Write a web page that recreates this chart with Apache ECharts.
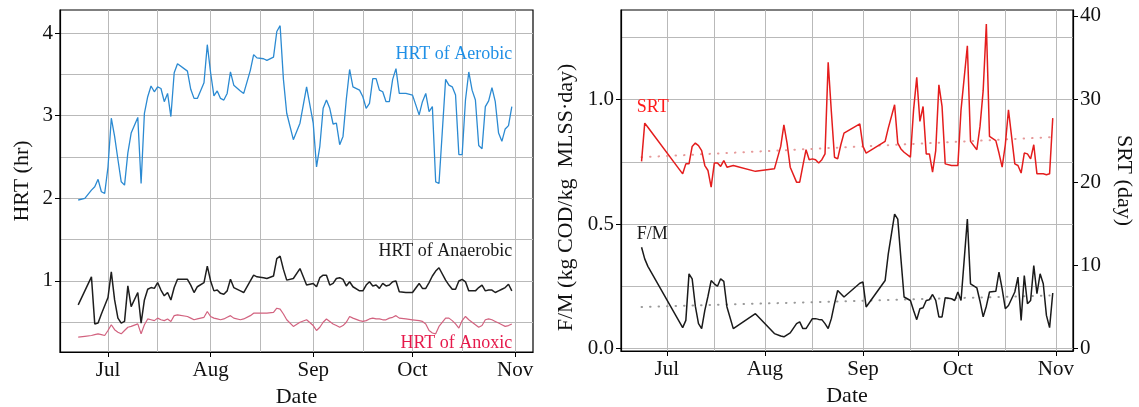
<!DOCTYPE html>
<html><head><meta charset="utf-8">
<script src="https://cdn.jsdelivr.net/npm/echarts@6/dist/echarts.min.js"></script>
<style>html,body{margin:0;padding:0;background:#fff}#c{width:1139px;height:407px}</style>
</head><body><div id="c"></div>
<script>
// ---------- data (left panel: HRT) ----------
const leftDates = ['06-22','06-24','06-26','06-27','06-28','06-29','06-30',
'07-01','07-02','07-03','07-04','07-05','07-06','07-07','07-08','07-10','07-11','07-12','07-13','07-14','07-15','07-16','07-17','07-18','07-19','07-20','07-21','07-22','07-25','07-26','07-27','07-28','07-30','07-31',
'08-01','08-02','08-03','08-04','08-05','08-06','08-07','08-08','08-10','08-11','08-13','08-14','08-15','08-17','08-18','08-20','08-21','08-22','08-23','08-24','08-26','08-28','08-30',
'09-01','09-02','09-03','09-04','09-05','09-06','09-07','09-08','09-09','09-10','09-11','09-12','09-13','09-15','09-16','09-17','09-18','09-19','09-20','09-21','09-22','09-23','09-24','09-25','09-26','09-27','09-29',
'10-01','10-03','10-04','10-05','10-06','10-07','10-08','10-09','10-11','10-12','10-13','10-14','10-15','10-16','10-17','10-18','10-19','10-20','10-21','10-22','10-23','10-24','10-25','10-26','10-27','10-28','10-29','10-30','10-31'];
const hrtAerobic = [1.98,2.00,2.10,2.14,2.23,2.08,2.06,
2.38,2.97,2.75,2.47,2.20,2.16,2.55,2.79,2.98,2.18,3.03,3.23,3.36,3.29,3.35,3.33,3.17,3.27,2.99,3.52,3.63,3.54,3.32,3.21,3.21,3.40,3.86,
3.52,3.24,3.30,3.21,3.19,3.27,3.53,3.37,3.30,3.27,3.55,3.74,3.70,3.69,3.67,3.71,4.02,4.09,3.44,3.03,2.71,2.91,3.35,
2.91,2.38,2.63,3.09,3.19,3.09,2.90,2.91,2.65,2.75,3.20,3.56,3.35,3.31,3.23,3.09,3.15,3.45,3.45,3.31,3.29,3.17,3.17,3.44,3.57,3.27,3.27,
3.25,3.01,3.17,3.27,3.05,3.11,2.20,2.18,3.44,3.37,3.35,3.25,2.53,2.53,3.19,3.53,3.31,3.19,2.64,2.60,3.11,3.18,3.34,3.17,2.79,2.69,2.84,2.88,3.11];
const hrtAnaerobic = [0.71,0.88,1.05,0.48,0.49,0.60,0.70,
0.80,1.11,0.77,0.55,0.49,0.51,0.94,0.69,0.86,0.49,0.77,0.90,0.92,0.91,0.98,0.89,0.82,0.86,0.77,0.92,1.02,1.02,0.95,0.86,0.93,0.98,1.18,
1.00,0.88,0.89,0.85,0.84,0.88,1.02,0.92,0.88,0.86,1.00,1.07,1.05,1.04,1.03,1.06,1.27,1.30,1.14,1.01,1.03,1.15,0.95,
0.97,0.93,1.04,1.07,1.07,0.95,0.97,1.03,1.04,1.02,0.94,0.99,0.93,0.88,0.88,0.95,0.99,0.94,0.95,0.91,0.97,0.94,0.95,0.99,1.00,0.87,0.86,
0.86,0.97,0.91,0.91,0.98,1.06,1.12,1.16,1.01,0.95,0.90,0.90,1.00,1.02,0.99,0.88,0.88,0.88,0.92,0.95,0.88,0.89,0.89,0.86,0.88,0.90,0.92,0.96,0.88];
const hrtAnoxic = [0.32,0.33,0.34,0.35,0.36,0.35,0.34,
0.40,0.47,0.41,0.38,0.36,0.40,0.44,0.45,0.48,0.36,0.47,0.54,0.53,0.52,0.55,0.53,0.52,0.54,0.51,0.58,0.59,0.57,0.55,0.53,0.54,0.56,0.63,
0.57,0.55,0.54,0.53,0.54,0.56,0.58,0.55,0.53,0.54,0.58,0.61,0.61,0.61,0.61,0.62,0.67,0.66,0.60,0.53,0.45,0.50,0.53,
0.46,0.40,0.44,0.50,0.54,0.51,0.48,0.46,0.44,0.46,0.50,0.57,0.55,0.52,0.51,0.52,0.54,0.55,0.54,0.54,0.53,0.53,0.55,0.56,0.58,0.55,0.54,
0.53,0.52,0.51,0.48,0.40,0.37,0.36,0.45,0.55,0.55,0.52,0.48,0.43,0.52,0.57,0.53,0.50,0.47,0.44,0.46,0.53,0.54,0.53,0.51,0.49,0.47,0.45,0.46,0.48];

// ---------- data (right panel: SRT and F/M) ----------
const rightDates = ['06-23','06-24','06-25','07-06','07-07','07-08','07-09','07-10','07-11','07-12','07-13','07-14','07-15','07-16','07-17','07-18','07-19','07-20','07-22','07-29',
'08-04','08-06','08-07','08-08','08-09','08-11','08-12','08-13','08-14','08-15','08-16','08-17','08-18','08-19','08-20','08-21','08-22','08-23','08-24','08-25','08-26','08-31',
'09-01','09-02','09-08','09-09','09-11','09-12','09-13','09-14','09-16','09-17','09-18','09-19','09-20','09-21','09-22','09-23','09-24','09-25','09-26','09-27','09-29','09-30',
'10-01','10-02','10-04','10-05','10-07','10-08','10-09','10-10','10-11','10-13','10-14','10-15','10-16','10-17','10-19','10-20','10-21','10-22','10-23','10-24','10-25','10-26','10-27','10-28','10-29','10-30','10-31'];
const srtValues = [22.5,27.1,26.6,21.0,22.2,22.2,24.3,24.7,24.4,23.8,22.0,21.4,19.4,22.3,22.3,21.9,22.6,21.8,22.0,21.3,
21.6,24.3,26.9,24.7,21.8,20.0,20.0,22.0,23.9,22.7,22.8,22.7,22.3,22.7,23.4,34.4,28.5,23.0,22.8,24.5,25.9,27.0,
24.3,23.5,24.9,26.5,29.3,24.7,24.0,23.6,23.0,28.7,32.6,27.3,29.1,23.4,23.4,21.2,23.8,31.7,29.1,22.2,22.0,22.0,
22.0,28.7,36.4,24.9,23.9,26.7,31.0,39.0,25.5,25.0,23.5,21.8,24.5,28.7,22.2,22.0,21.1,23.5,23.4,22.8,24.5,21.0,21.0,21.0,20.9,21.0,27.7];
const fmValues = [0.407,0.36,0.33,0.084,0.113,0.30,0.28,0.17,0.10,0.08,0.153,0.21,0.273,0.26,0.25,0.28,0.27,0.167,0.08,0.14,
0.06,0.05,0.047,0.055,0.063,0.10,0.107,0.08,0.08,0.10,0.12,0.12,0.117,0.116,0.10,0.08,0.12,0.18,0.233,0.22,0.207,0.262,
0.267,0.167,0.273,0.38,0.54,0.52,0.36,0.207,0.193,0.153,0.116,0.16,0.164,0.193,0.196,0.217,0.193,0.127,0.127,0.204,0.20,0.193,
0.227,0.193,0.52,0.26,0.244,0.19,0.127,0.17,0.227,0.23,0.307,0.24,0.16,0.173,0.227,0.287,0.113,0.293,0.18,0.193,0.333,0.22,0.30,0.26,0.133,0.084,0.223];
const trendDates = ['06-23','10-30'];
const srtTrend = [23.0, 25.4];
const fmTrend = [0.167, 0.213];

// ---------- axis ticks ----------
const monthTickDates = ['07-01','08-01','09-01','10-01','11-01'];
const monthLabels = ['Jul','Aug','Sep','Oct','Nov'];
const gridLineDates = ['07-01','07-16','08-01','08-16','09-01','09-16','10-01','10-16','11-01'];
const hrtTicks = [1,2,3,4];
const hrtGridLines = [0.5,1,1.5,2,2.5,3,3.5,4];
const fmTicks = [0,0.5,1.0];
const fmGridLines = [0,0.25,0.5,0.75,1.0,1.25];
const srtTicks = [0,10,20,30,40];

// ---------- helpers ----------
function dayNum(s){ const p = s.split('-').map(Number); return Math.round((Date.UTC(2019,p[0]-1,p[1]) - Date.UTC(2019,6,1))/86400000); }
function pairs(dates, vals){ return dates.map((d,i)=>[dayNum(d), vals[i]]); }
const monthTickVals = monthTickDates.map(dayNum);
const gridVals = gridLineDates.map(dayNum);
const X_MIN = -14.5, X_MAX = 128.4;
const FONT = 'Liberation Serif';
const TXT = '#111';
const GRIDC = '#b9b9b9';

function xMain(g){ return {type:'value', gridIndex:g, min:X_MIN, max:X_MAX, position:'bottom',
  axisLine:{show:true,onZero:false,lineStyle:{color:'#000',width:1.2}},
  axisTick:{show:true,inside:false,length:5,customValues:monthTickVals,lineStyle:{color:'#000',width:1}},
  axisLabel:{show:true,customValues:monthTickVals,margin:8,fontFamily:FONT,fontSize:21,color:TXT,
    formatter:v=>monthLabels[monthTickVals.indexOf(Math.round(v))]},
  splitLine:{show:false},
  name:'Date',nameLocation:'middle',nameGap:31,nameTextStyle:{fontFamily:FONT,fontSize:22,color:TXT}}; }
function xGrid(g){ return {type:'value', gridIndex:g, min:X_MIN, max:X_MAX, position:'top',
  axisLine:{show:false}, axisTick:{show:false,customValues:gridVals}, axisLabel:{show:false,customValues:gridVals},
  splitLine:{show:true,lineStyle:{color:GRIDC,width:1}}}; }
function yGrid(g,min,max,vals){ return {type:'value', gridIndex:g, min:min, max:max, position:'left',
  axisLine:{show:false}, axisTick:{show:false,customValues:vals}, axisLabel:{show:false,customValues:vals},
  splitLine:{show:true,lineStyle:{color:GRIDC,width:1}}}; }
function yMain(g,min,max,vals,pos,name,gap,fmt,rot,pad){ const o = {type:'value', gridIndex:g, min:min, max:max, position:pos,
  axisLine:{show:true,onZero:false,lineStyle:{color:'#000',width:1.2}},
  axisTick:{show:true,inside:false,length:5,customValues:vals,lineStyle:{color:'#000',width:1}},
  axisLabel:{show:true,customValues:vals,margin:7,fontFamily:FONT,fontSize:21,color:TXT,formatter:fmt},
  splitLine:{show:false},
  name:name,nameLocation:'middle',nameGap:gap,nameTextStyle:{fontFamily:FONT,fontSize:22,color:TXT}};
  if (rot !== undefined && rot !== null) o.nameRotate = rot;
  if (pad) o.nameTextStyle.padding = pad;
  return o; }

const H_MIN = 0.14, H_MAX = 4.28, F_MIN = -0.01, F_MAX = 1.36, S_MIN = -0.3, S_MAX = 40.7;

const chart = echarts.init(document.getElementById('c'), null, {renderer:'canvas'});
const gridBase = {show:true, borderColor:'#000', borderWidth:1.2, backgroundColor:'transparent', containLabel:false, outerBoundsMode:'none'};
chart.setOption({
  animation:false,
  backgroundColor:'#fff',
  grid:[Object.assign({left:60, top:10, width:473, height:342}, gridBase),
        Object.assign({left:621, top:10, width:452, height:341}, gridBase)],
  xAxis:[xMain(0), xGrid(0), xMain(1), xGrid(1)],
  yAxis:[
    yMain(0,H_MIN,H_MAX,hrtTicks,'left','HRT (hr)',27,v=>String(Math.round(v))),
    yGrid(0,H_MIN,H_MAX,hrtGridLines),
    yMain(1,F_MIN,F_MAX,fmTicks,'left','F/M (kg COD/kg  MLSS\u00b7day)',44,v=>v.toFixed(1),null,[0,34,0,0]),
    yMain(1,S_MIN,S_MAX,srtTicks,'right','SRT (day)',40,v=>String(Math.round(v)),-90),
    yGrid(1,F_MIN,F_MAX,fmGridLines)
  ],
  series:[
    {type:'line', xAxisIndex:0, yAxisIndex:0, data:pairs(leftDates,hrtAnoxic), showSymbol:false, symbol:'none', silent:true, lineStyle:{color:'#d2627f',width:1.2}},
    {type:'line', xAxisIndex:0, yAxisIndex:0, data:pairs(leftDates,hrtAnaerobic), showSymbol:false, symbol:'none', silent:true, lineStyle:{color:'#1e1e1e',width:1.5}},
    {type:'line', xAxisIndex:0, yAxisIndex:0, data:pairs(leftDates,hrtAerobic), showSymbol:false, symbol:'none', silent:true, lineStyle:{color:'#2b8ad2',width:1.3}},
    {type:'line', xAxisIndex:2, yAxisIndex:3, data:pairs(trendDates,srtTrend), showSymbol:false, symbol:'none', silent:true, lineStyle:{color:'#e69a9a',width:2,type:[0.5,8],cap:'round'}},
    {type:'line', xAxisIndex:2, yAxisIndex:2, data:pairs(trendDates,fmTrend), showSymbol:false, symbol:'none', silent:true, lineStyle:{color:'#999999',width:2,type:[0.5,8],cap:'round'}},
    {type:'line', xAxisIndex:2, yAxisIndex:3, data:pairs(rightDates,srtValues), showSymbol:false, symbol:'none', silent:true, lineStyle:{color:'#e41d1d',width:1.5}},
    {type:'line', xAxisIndex:2, yAxisIndex:2, data:pairs(rightDates,fmValues), showSymbol:false, symbol:'none', silent:true, lineStyle:{color:'#1a1a1a',width:1.5}}
  ]
});

// ---------- in-plot annotations (anchored in data coordinates) ----------
const annotations = [
  {text:'HRT of Aerobic',   x:['10-31',0.15], y:3.74, axes:[0,0], align:'right', color:'#1f8fe6'},
  {text:'HRT of Anaerobic', x:['10-31',0.15], y:1.36, axes:[0,0], align:'right', color:'#1a1a1a'},
  {text:'HRT of Anoxic',    x:['10-31',0.15], y:0.25, axes:[0,0], align:'right', color:'#e6194b'},
  {text:'SRT',              x:['06-22',-0.5], y:0.97, axes:[2,2], align:'left',  color:'#ff1a1a'},
  {text:'F/M',              x:['06-22',-0.5], y:0.46, axes:[2,2], align:'left',  color:'#1a1a1a'}
];
chart.setOption({graphic: annotations.map(a => {
  const p = chart.convertToPixel({xAxisIndex:a.axes[0], yAxisIndex:a.axes[1]}, [dayNum(a.x[0]) + a.x[1], a.y]);
  return {type:'text', x:p[0], y:p[1], z:100, silent:true,
    style:{text:a.text, fill:a.color, font:'18px "Liberation Serif"', align:a.align, textAlign:a.align, verticalAlign:'middle', textVerticalAlign:'middle'}};
})});
</script>
</body></html>
